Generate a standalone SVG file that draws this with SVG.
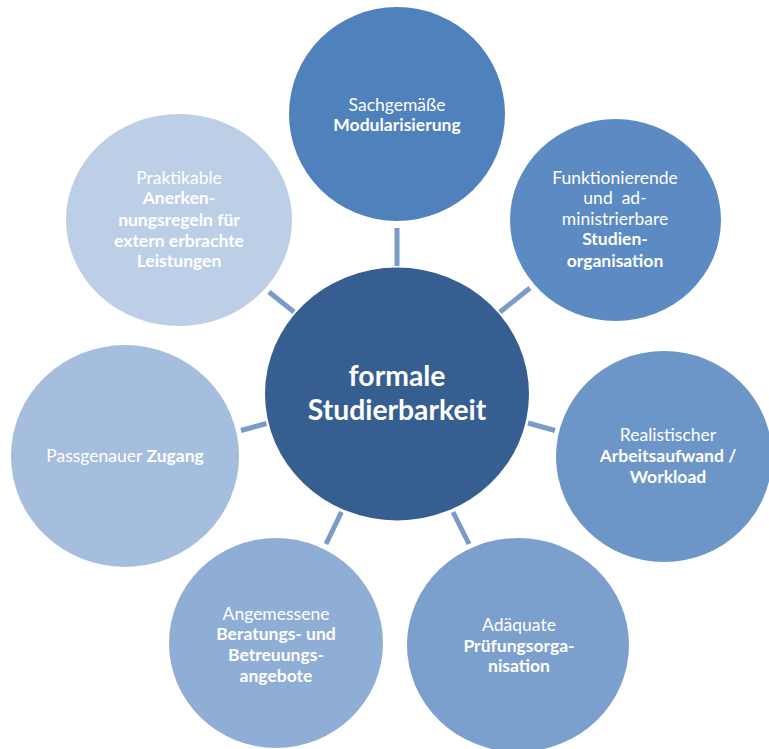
<svg xmlns="http://www.w3.org/2000/svg" width="769" height="749" viewBox="0 0 769 749">
<style>
.t{font-family:Lato,"Open Sans","Liberation Sans",sans-serif;font-size:17.5px;fill:#ffffff;text-anchor:middle;white-space:pre}
.b{font-weight:bold}
.c{font-family:Lato,"Open Sans","Liberation Sans",sans-serif;font-size:28.3px;font-weight:bold;fill:#ffffff;text-anchor:middle}
.ln{stroke:#7A9BCA;stroke-width:5;fill:none}
</style>
<rect width="769" height="749" fill="#ffffff"/>
<g id="connectors">
<line class="ln" x1="397" y1="228" x2="397" y2="266"/>
<line class="ln" x1="269" y1="292" x2="294" y2="312"/>
<line class="ln" x1="530" y1="288" x2="500" y2="312"/>
<line class="ln" x1="241" y1="430.5" x2="266.5" y2="423.5"/>
<line class="ln" x1="528" y1="423" x2="555" y2="430.5"/>
<line class="ln" x1="341.5" y1="512" x2="326" y2="544"/>
<line class="ln" x1="453" y1="512" x2="469" y2="544"/>
</g>
<g id="node-top">
<ellipse cx="397" cy="114" rx="108" ry="107" fill="#4F81BD"/>
<text class="t" x="397" y="110.5">Sachgemäße</text>
<text class="t b" x="397" y="131">Modularisierung</text>
</g>
<g id="node-topright">
<ellipse cx="615.5" cy="220" rx="105.5" ry="101" fill="#5C8AC3"/>
<text class="t" x="615" y="183.5">Funktionierende</text>
<text class="t" x="615" y="204">und  ad-</text>
<text class="t" x="615" y="224.5">ministrierbare</text>
<text class="t b" x="615" y="245">Studien-</text>
<text class="t b" x="615" y="266.5">organisation</text>
</g>
<g id="node-right">
<ellipse cx="664" cy="456.5" rx="108" ry="105.5" fill="#6C96C8"/>
<text class="t" x="668" y="440.5">Realistischer</text>
<text class="t b" x="668" y="461.5">Arbeitsaufwand /</text>
<text class="t b" x="668" y="482.5">Workload</text>
</g>
<g id="node-bottomright">
<ellipse cx="518" cy="645" rx="111" ry="107" fill="#7CA0CE"/>
<text class="t" x="519" y="631">Adäquate</text>
<text class="t b" x="519" y="651.5">Prüfungsorga-</text>
<text class="t b" x="519" y="672">nisation</text>
</g>
<g id="node-bottomleft">
<ellipse cx="276" cy="643" rx="107" ry="105" fill="#8FAED5"/>
<text class="t" x="276" y="619.5">Angemessene</text>
<text class="t b" x="276" y="640">Beratungs- und</text>
<text class="t b" x="276" y="661">Betreuungs-</text>
<text class="t b" x="276" y="681.5">angebote</text>
</g>
<g id="node-left">
<ellipse cx="125" cy="456" rx="114" ry="111" fill="#A6BEDE"/>
<text class="t" x="125" y="461.5">Passgenauer <tspan class="b">Zugang</tspan></text>
</g>
<g id="node-topleft">
<ellipse cx="179" cy="220" rx="113" ry="106" fill="#BDCFE7"/>
<text class="t" x="179" y="183.5">Praktikable</text>
<text class="t b" x="179" y="204">Anerken-</text>
<text class="t b" x="179" y="225.5">nungsregeln für</text>
<text class="t b" x="179" y="246.5">extern erbrachte</text>
<text class="t b" x="179" y="267">Leistungen</text>
</g>
<g id="node-center">
<ellipse cx="397" cy="394" rx="132" ry="126.5" fill="#365E90"/>
<text class="c" x="397" y="385.5">formale</text>
<text class="c" x="397" y="419.5">Studierbarkeit</text>
</g>
</svg>
